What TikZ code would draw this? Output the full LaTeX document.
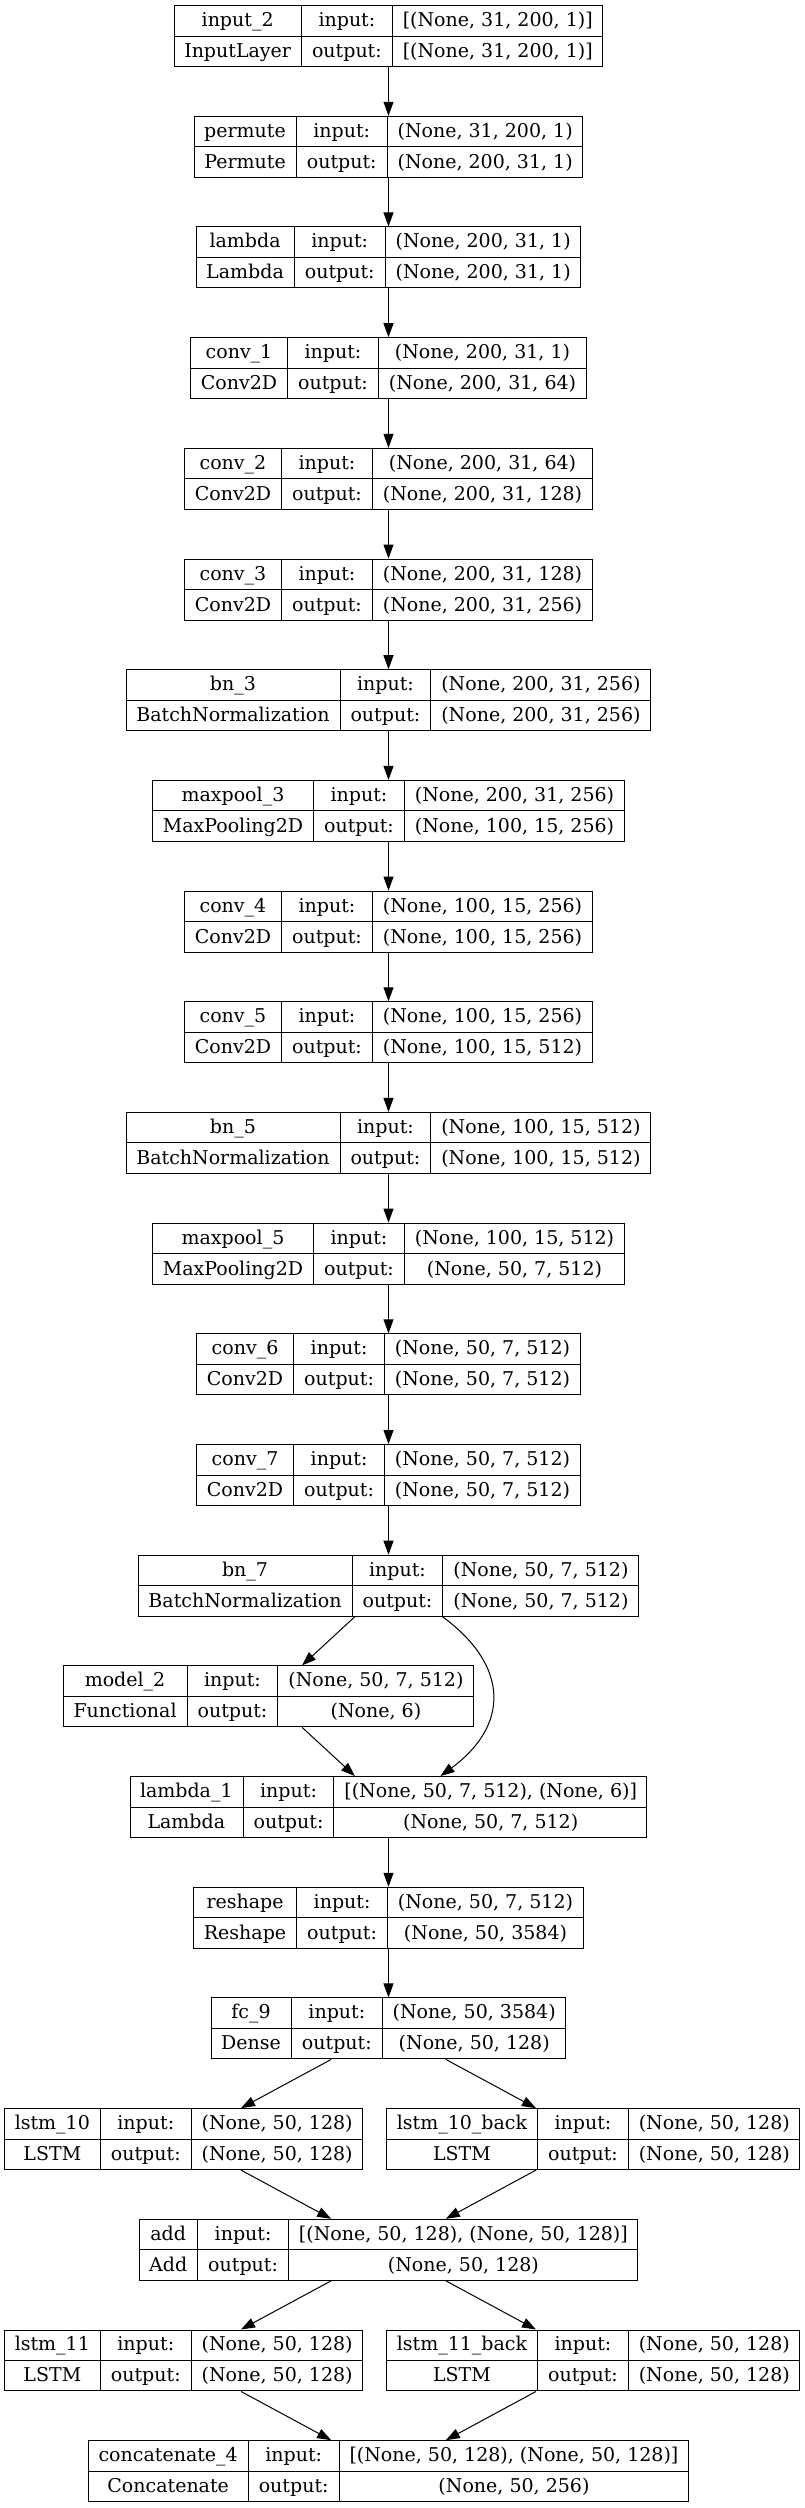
\documentclass[tikz,border=0pt]{standalone}
\usepackage{fontspec}
\setmainfont{DejaVu Serif}
\usepackage{array}
\usetikzlibrary{arrows.meta, positioning}

\setlength{\arrayrulewidth}{1pt}
\setlength{\tabcolsep}{10pt}
\renewcommand{\arraystretch}{1.304}
\newcommand{\layerrec}[4]{%
  \begin{tabular}{c|c|c}
    #1 & input: & #3 \\ \hline
    #2 & output: & #4
  \end{tabular}}

\begin{document}
\begin{tikzpicture}[
    node distance=48.7pt,
    layer/.style={rectangle, draw, line width=1pt, inner sep=0pt, font=\fontsize{19pt}{23pt}\selectfont},
    arrow/.style={-{Triangle[length=14pt, width=10pt]}, line width=1pt}
]
    \useasboundingbox (-388.5pt,36.1pt) rectangle (416.5pt,-2471.9pt);

    % Input and reshaping
    \node[layer] (input2) {\layerrec{input\_2}{InputLayer}{[(None, 31, 200, 1)]}{[(None, 31, 200, 1)]}};
    \node[layer, below=of input2] (permute) {\layerrec{permute}{Permute}{(None, 31, 200, 1)}{(None, 200, 31, 1)}};
    \node[layer, below=of permute] (lambda) {\layerrec{lambda}{Lambda}{(None, 200, 31, 1)}{(None, 200, 31, 1)}};

    % Convolution blocks
    \node[layer, below=of lambda] (conv1) {\layerrec{conv\_1}{Conv2D}{(None, 200, 31, 1)}{(None, 200, 31, 64)}};
    \node[layer, below=of conv1] (conv2) {\layerrec{conv\_2}{Conv2D}{(None, 200, 31, 64)}{(None, 200, 31, 128)}};
    \node[layer, below=of conv2] (conv3) {\layerrec{conv\_3}{Conv2D}{(None, 200, 31, 128)}{(None, 200, 31, 256)}};
    \node[layer, below=of conv3] (bn3) {\layerrec{bn\_3}{BatchNormalization}{(None, 200, 31, 256)}{(None, 200, 31, 256)}};
    \node[layer, below=of bn3] (maxpool3) {\layerrec{maxpool\_3}{MaxPooling2D}{(None, 200, 31, 256)}{(None, 100, 15, 256)}};
    \node[layer, below=of maxpool3] (conv4) {\layerrec{conv\_4}{Conv2D}{(None, 100, 15, 256)}{(None, 100, 15, 256)}};
    \node[layer, below=of conv4] (conv5) {\layerrec{conv\_5}{Conv2D}{(None, 100, 15, 256)}{(None, 100, 15, 512)}};
    \node[layer, below=of conv5] (bn5) {\layerrec{bn\_5}{BatchNormalization}{(None, 100, 15, 512)}{(None, 100, 15, 512)}};
    \node[layer, below=of bn5] (maxpool5) {\layerrec{maxpool\_5}{MaxPooling2D}{(None, 100, 15, 512)}{(None, 50, 7, 512)}};
    \node[layer, below=of maxpool5] (conv6) {\layerrec{conv\_6}{Conv2D}{(None, 50, 7, 512)}{(None, 50, 7, 512)}};
    \node[layer, below=of conv6] (conv7) {\layerrec{conv\_7}{Conv2D}{(None, 50, 7, 512)}{(None, 50, 7, 512)}};
    \node[layer, below=of conv7] (bn7) {\layerrec{bn\_7}{BatchNormalization}{(None, 50, 7, 512)}{(None, 50, 7, 512)}};

    % Side branch
    \node[layer, below=of bn7, xshift=-120pt] (model2) {\layerrec{model\_2}{Functional}{(None, 50, 7, 512)}{(None, 6)}};
    \node[layer, below=of model2, xshift=120pt] (lambda1) {\layerrec{lambda\_1}{Lambda}{[(None, 50, 7, 512), (None, 6)]}{(None, 50, 7, 512)}};
    \node[layer, below=of lambda1] (reshape) {\layerrec{reshape}{Reshape}{(None, 50, 7, 512)}{(None, 50, 3584)}};
    \node[layer, below=of reshape] (fc9) {\layerrec{fc\_9}{Dense}{(None, 50, 3584)}{(None, 50, 128)}};

    % Recurrent part
    \node[layer, below=of fc9, xshift=-204.8pt] (lstm10) {\layerrec{lstm\_10}{LSTM}{(None, 50, 128)}{(None, 50, 128)}};
    \node[layer, below=of fc9, xshift=204.8pt] (lstm10back) {\layerrec{lstm\_10\_back}{LSTM}{(None, 50, 128)}{(None, 50, 128)}};
    \node[layer, below=of lstm10, xshift=204.8pt] (add) {\layerrec{add}{Add}{[(None, 50, 128), (None, 50, 128)]}{(None, 50, 128)}};
    \node[layer, below=of add, xshift=-204.8pt] (lstm11) {\layerrec{lstm\_11}{LSTM}{(None, 50, 128)}{(None, 50, 128)}};
    \node[layer, below=of add, xshift=204.8pt] (lstm11back) {\layerrec{lstm\_11\_back}{LSTM}{(None, 50, 128)}{(None, 50, 128)}};
    \node[layer, below=of lstm11, xshift=204.8pt] (concat4) {\layerrec{concatenate\_4}{Concatenate}{[(None, 50, 128), (None, 50, 128)]}{(None, 50, 256)}};

    % Main chain
    \draw[arrow] (input2) -- (permute);
    \draw[arrow] (permute) -- (lambda);
    \draw[arrow] (lambda) -- (conv1);
    \draw[arrow] (conv1) -- (conv2);
    \draw[arrow] (conv2) -- (conv3);
    \draw[arrow] (conv3) -- (bn3);
    \draw[arrow] (bn3) -- (maxpool3);
    \draw[arrow] (maxpool3) -- (conv4);
    \draw[arrow] (conv4) -- (conv5);
    \draw[arrow] (conv5) -- (bn5);
    \draw[arrow] (bn5) -- (maxpool5);
    \draw[arrow] (maxpool5) -- (conv6);
    \draw[arrow] (conv6) -- (conv7);
    \draw[arrow] (conv7) -- (bn7);

    % Branch and merge
    \draw[arrow] (bn7) -- (model2);
    \draw[arrow] (model2) -- (lambda1);
    \draw[arrow] ([xshift=54pt]bn7.south) .. controls +(68pt,-50pt) and +(68pt,50pt) .. ([xshift=52pt]lambda1.north);
    \draw[arrow] (lambda1) -- (reshape);
    \draw[arrow] (reshape) -- (fc9);

    % Bidirectional layers
    \draw[arrow] (fc9) -- (lstm10);
    \draw[arrow] (fc9) -- (lstm10back);
    \draw[arrow] (lstm10) -- (add);
    \draw[arrow] (lstm10back) -- (add);
    \draw[arrow] (add) -- (lstm11);
    \draw[arrow] (add) -- (lstm11back);
    \draw[arrow] (lstm11) -- (concat4);
    \draw[arrow] (lstm11back) -- (concat4);
\end{tikzpicture}
\end{document}
